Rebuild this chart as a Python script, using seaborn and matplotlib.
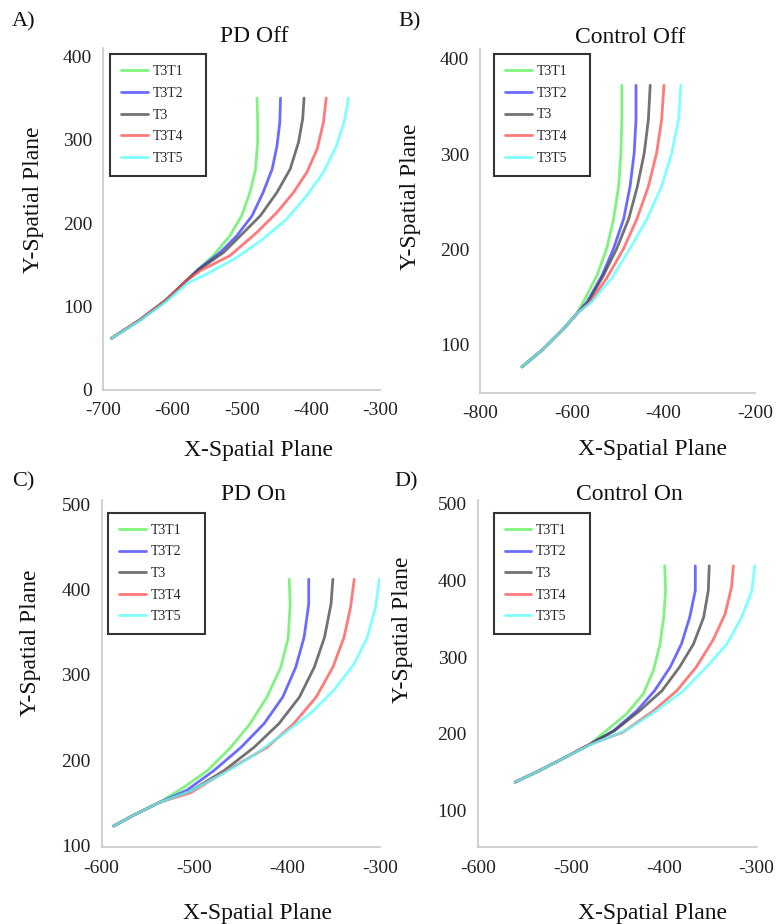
import numpy as np
import pandas as pd
import matplotlib
matplotlib.use("Agg")
import matplotlib.pyplot as plt
import seaborn as sns

trials = ["T3T1", "T3T2", "T3", "T3T4", "T3T5"]
colors = ["#55ee55", "#3a3aff", "#444444", "#ff4d4d", "#55ffff"]

# Panel A: PD Off
a_x = {
    "T3T1": [-688, -647, -609, -580, -565, -541, -517, -500, -488, -480, -477, -477, -478],
    "T3T2": [-688, -647, -609, -580, -562, -531, -507, -485, -469, -456, -449, -445, -444],
    "T3":   [-688, -647, -609, -580, -562, -526, -497, -473, -449, -430, -418, -412, -410],
    "T3T4": [-688, -647, -609, -580, -560, -517, -478, -449, -425, -406, -391, -382, -378],
    "T3T5": [-688, -647, -609, -578, -548, -507, -469, -435, -406, -382, -363, -351, -346],
}
a_y = {
    "T3T1": [62, 84, 108, 131, 143, 161, 185, 209, 237, 265, 297, 325, 350],
    "T3T2": [62, 84, 108, 131, 145, 165, 185, 209, 237, 265, 293, 321, 350],
    "T3":   [62, 84, 108, 131, 144, 165, 189, 209, 237, 265, 297, 325, 350],
    "T3T4": [62, 84, 108, 131, 143, 161, 189, 213, 237, 261, 289, 321, 350],
    "T3T5": [62, 83, 106, 128, 140, 159, 181, 205, 233, 261, 293, 325, 350],
}
# Panel B: Control Off
b_x = {
    "T3T1": [-709, -662, -618, -589, -575, -545, -524, -509, -498, -493, -491, -491],
    "T3T2": [-709, -662, -618, -589, -567, -534, -509, -487, -473, -464, -460, -460],
    "T3":   [-709, -662, -618, -589, -564, -531, -502, -476, -457, -442, -433, -429],
    "T3T4": [-709, -662, -618, -589, -560, -524, -487, -458, -433, -415, -404, -399],
    "T3T5": [-709, -662, -618, -589, -555, -513, -473, -436, -404, -382, -367, -362],
}
b_y = {
    "T3T1": [77, 96, 117, 133, 145, 173, 201, 232, 266, 301, 336, 372],
    "T3T2": [77, 96, 117, 133, 145, 173, 201, 232, 266, 301, 336, 372],
    "T3":   [77, 96, 117, 133, 145, 173, 201, 232, 266, 301, 336, 372],
    "T3T4": [77, 96, 117, 133, 145, 170, 201, 232, 266, 301, 336, 372],
    "T3T5": [77, 96, 117, 133, 146, 170, 201, 232, 266, 301, 336, 372],
}
# Panel C: PD On
c_x = {
    "T3T1": [-587, -565, -537, -512, -486, -461, -440, -422, -407, -399, -397, -398],
    "T3T2": [-587, -565, -537, -508, -479, -450, -425, -405, -391, -382, -377, -377],
    "T3":   [-587, -565, -537, -504, -468, -436, -409, -387, -371, -360, -353, -351],
    "T3T4": [-587, -565, -537, -504, -465, -422, -393, -369, -351, -339, -332, -328],
    "T3T5": [-587, -565, -537, -504, -468, -436, -404, -375, -350, -328, -314, -305, -301],
}
c_y = {
    "T3T1": [123, 136, 151, 168, 188, 215, 243, 274, 309, 344, 383, 412],
    "T3T2": [123, 136, 151, 165, 188, 215, 243, 274, 309, 344, 383, 412],
    "T3":   [123, 136, 151, 164, 188, 215, 243, 274, 309, 344, 383, 412],
    "T3T4": [123, 136, 151, 162, 188, 215, 243, 274, 309, 344, 379, 412],
    "T3T5": [123, 136, 151, 164, 185, 206, 231, 255, 282, 313, 344, 379, 412],
}
# Panel D: Control On
d_x = {
    "T3T1": [-560, -534, -505, -480, -462, -440, -422, -411, -404, -400, -398, -399],
    "T3T2": [-560, -534, -505, -480, -454, -429, -410, -393, -381, -372, -366, -366],
    "T3":   [-560, -534, -505, -480, -453, -426, -402, -383, -368, -357, -352, -351],
    "T3T4": [-560, -534, -505, -480, -444, -411, -386, -365, -347, -334, -327, -325],
    "T3T5": [-560, -534, -505, -480, -460, -440, -408, -379, -354, -332, -316, -305, -302],
}
d_y = {
    "T3T1": [137, 152, 170, 186, 204, 226, 252, 283, 317, 352, 387, 419],
    "T3T2": [137, 152, 170, 186, 204, 230, 256, 287, 317, 352, 387, 419],
    "T3":   [137, 152, 170, 186, 204, 230, 256, 287, 317, 352, 387, 419],
    "T3T4": [137, 152, 170, 186, 202, 230, 256, 287, 322, 356, 391, 419],
    "T3T5": [137, 152, 170, 185, 195, 205, 230, 256, 287, 317, 352, 387, 419],
}

# (label, title, xs, ys, axes rect, xlim, ylim, xticks, yticks,
#  title pad, xlabel coords, ylabel coords, panel-label coords, legend anchor)
panels = [
    ("A)", "PD Off", a_x, a_y, [0.133, 0.578, 0.357, 0.370], (-700, -300), (0, 410),
     [-700, -600, -500, -400, -300], [0, 100, 200, 300, 400],
     4, (0.56, -0.145), (-0.215, 0.556), (-0.33, 1.064), (0.025, 0.982, 0.347)),
    ("B)", "Control Off", b_x, b_y, [0.619, 0.575, 0.354, 0.372], (-800, -200), (50, 410),
     [-800, -600, -400, -200], [100, 200, 300, 400],
     4, (0.627, -0.135), (-0.215, 0.57), (-0.30, 1.064), (0.051, 0.985, 0.349)),
    ("C)", "PD On", c_x, c_y, [0.131, 0.083, 0.359, 0.376], (-600, -300), (98, 505),
     [-600, -500, -400, -300], [100, 200, 300, 400, 500],
     0, (0.56, -0.16), (-0.218, 0.59), (-0.32, 1.04), (0.024, 0.963, 0.346)),
    ("D)", "Control On", d_x, d_y, [0.616, 0.083, 0.359, 0.376], (-600, -300), (52, 505),
     [-600, -500, -400, -300], [100, 200, 300, 400, 500],
     0, (0.627, -0.16), (-0.235, 0.625), (-0.30, 1.04), (0.057, 0.963, 0.344)),
]

sns.set_theme(style="white")
plt.rcParams["font.family"] = ["Liberation Serif", "DejaVu Serif"]

fig = plt.figure(figsize=(7.76, 9.24), dpi=100)
palette = dict(zip(trials, colors))

for (label, title, xs, ys, pos, xl, yl, xt, yt,
     tpad, xlc, ylc, plc, lga) in panels:
    ax = fig.add_axes(pos)
    rows = []
    for t in trials:
        for i, (xv, yv) in enumerate(zip(xs[t], ys[t])):
            rows.append({"x": xv, "y": yv, "trial": t, "order": i})
    df = pd.DataFrame(rows)
    sns.lineplot(data=df, x="x", y="y", hue="trial", hue_order=trials, palette=palette,
                 sort=False, estimator=None, linewidth=2.0, alpha=0.75, ax=ax)
    ax.set_xlim(*xl)
    ax.set_ylim(*yl)
    ax.set_xticks(xt)
    ax.set_yticks(yt)
    ax.set_xticklabels([str(v) for v in xt], fontsize=14, color="#222222")
    ax.set_yticklabels([str(v) for v in yt], fontsize=14, color="#222222")
    ax.tick_params(axis="x", direction="in", length=3, width=0.8, color="#bbbbbb", pad=9)
    ax.tick_params(axis="y", direction="in", length=3, width=0.8, color="#bbbbbb", pad=8)
    for s in ["top", "right"]:
        ax.spines[s].set_visible(False)
    for s in ["left", "bottom"]:
        ax.spines[s].set_color("#c8c8c8")
        ax.spines[s].set_linewidth(1.2)
    ax.set_title(title, fontsize=17, color="#111111", pad=tpad, x=0.545)
    ax.set_xlabel("X-Spatial Plane", fontsize=17, color="#111111")
    ax.set_ylabel("Y-Spatial Plane", fontsize=17, color="#111111")
    ax.xaxis.set_label_coords(*xlc)
    ax.yaxis.set_label_coords(*ylc)
    leg = ax.legend(loc="upper left", bbox_to_anchor=(lga[0], lga[1] - 0.5, lga[2], 0.5),
                    mode="expand", fontsize=10,
                    frameon=True, fancybox=False, handlelength=1.9, handletextpad=0.35,
                    labelspacing=0.62, borderpad=0.8, borderaxespad=0.0, title=None)
    leg.get_frame().set_edgecolor("black")
    leg.get_frame().set_linewidth(1.5)
    for h in leg.get_lines():
        h.set_linewidth(2.0)
    ax.text(plc[0], plc[1], label, transform=ax.transAxes, fontsize=16, color="#111111")

fig.savefig("out.png", dpi=100)
